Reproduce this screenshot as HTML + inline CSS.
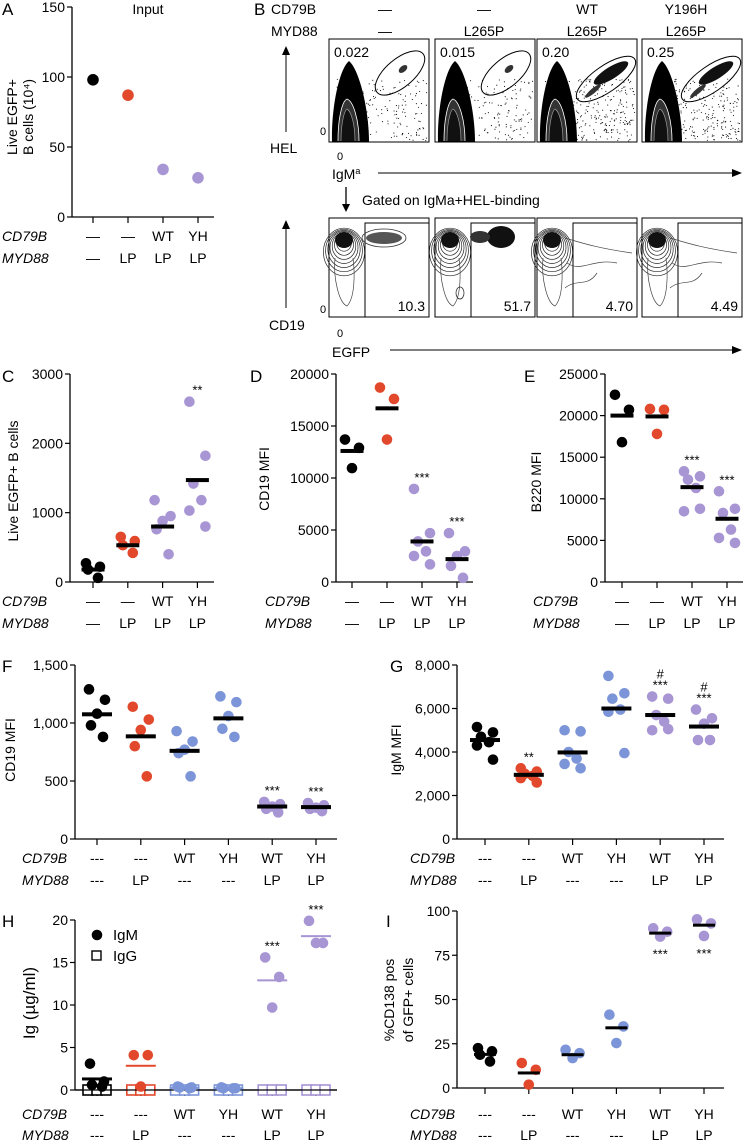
<!DOCTYPE html>
<html><head><meta charset="utf-8"><style>
html,body{margin:0;padding:0;background:#fff}
svg{display:block;font-family:"Liberation Sans",Arial,sans-serif}
</style></head><body>
<svg id="fig" width="745" height="1140" viewBox="0 0 745 1140" xmlns="http://www.w3.org/2000/svg">
<g id="static" fill="#000">
<text x="2" y="15" font-size="17">A</text>
<text x="148" y="14" font-size="14" text-anchor="middle">Input</text>
<text x="254" y="15" font-size="17">B</text>
<text x="271" y="14" font-size="14">CD79B</text>
<text x="271" y="36" font-size="14">MYD88</text>
<text x="2" y="382" font-size="17">C</text>
<text x="250" y="382" font-size="17">D</text>
<text x="524" y="382" font-size="17">E</text>
<text x="2" y="672" font-size="17">F</text>
<text x="390" y="672" font-size="17">G</text>
<text x="2" y="927" font-size="17">H</text>
<text x="386" y="927" font-size="17">I</text>
</g>
<g id="flow"></g>
<g id="charts"></g>
</svg>
<script>
// ---------- data ----------
const rowsShort1 = ['—','—','WT','YH'];
const rowsShort2 = ['—','LP','LP','LP'];
const rowsLong1 = ['---','---','WT','YH','WT','YH'];
const rowsLong2 = ['---','LP','---','---','LP','LP'];

const A_vals = [[98],[87],[34],[28]];
const A_ticks = [0,50,100,150];

const C_vals = [[270,220,180,60],[650,590,530,420],[1180,950,880,760,400],[2600,1820,1420,1180,1030,800]];
const C_means = [180,530,800,1470];
const C_ticks = [0,1000,2000,3000];
const C_stars = ['','','','**'];

const D_vals = [[13700,12900,10950],[18700,17600,13700],[8950,4700,3900,2950,2500,1700],[4700,2950,2500,1550,400]];
const D_means = [12600,16700,3900,2200];
const D_ticks = [0,5000,10000,15000,20000];
const D_stars = ['','','***','***'];

const E_vals = [[22500,20700,16800],[20800,20700,17800],[13300,12700,12300,11300,8500,8800],[10900,8800,8300,6300,5300,4700]];
const E_means = [20000,19900,11400,7600];
const E_ticks = [0,5000,10000,15000,20000,25000];
const E_stars = ['','','***','***'];

const F_vals = [[1290,1200,1080,980,880],[1140,1030,940,800,540],[930,840,770,740,540],[1230,1180,1060,950,880],[320,300,280,260,230],[310,290,270,260,240]];
const F_means = [1075,885,760,1040,280,275];
const F_ticks = [0,500,1000,1500];
const F_tickLabels = ['0','500','1,000','1,500'];
const F_stars = ['','','','','***','***'];

const G_vals = [[5150,4900,4700,4450,4300,3650],[3250,3100,3000,2900,2800,2600],[5000,4950,4000,3700,3450,3250],[7500,6700,6450,5950,5850,3950],[6550,6450,5700,5400,5000,5050],[5950,5550,5300,4550,4550]];
const G_means = [4550,2950,3980,6000,5700,5170];
const G_ticks = [0,2000,4000,6000,8000];
const G_tickLabels = ['0','2,000','4,000','6,000','8,000'];
const G_stars = ['','**','','','***','***'];
const G_hash = ['','','','','#','#'];

const H_igm = [[3.1,1.0,0.6,0.4],[4.1,4.1,0.4],[0.4,0.3,0.3,0.2],[0.3,0.2,0.2,0.2],[15.6,13.3,9.7],[19.9,17.3,17.3]];
const H_igg = [[0,0,0],[0,0,0],[0,0,0],[0,0,0],[0,0,0],[0,0,0]];
const H_means = [1.3,2.85,0.25,0.2,12.9,18.1];
const H_ticks = [0,5,10,15,20];
const H_stars = ['','','','','***','***'];

const I_vals = [[22.5,20.7,18.8,15.0],[14.1,10.3,1.9],[21.6,19.7,16.9],[41.4,34.8,25.4],[90.2,88.3,85.5],[95.3,93.0,85.9]];
const I_means = [19,8.5,18.8,34,87.5,92];
const I_ticks = [0,25,50,75,100];
const I_stars = ['','','','','***','***'];

const B_top1 = ['—','—','WT','Y196H'];
const B_top2 = ['—','L265P','L265P','L265P'];
const B_pctTop = ['0.022','0.015','0.20','0.25'];
const B_pctBot = ['10.3','51.7','4.70','4.49'];

// ---------- helpers ----------
const NS='http://www.w3.org/2000/svg';
function mk(parent,tag,attrs,txt){const e=document.createElementNS(NS,tag);for(const k in attrs)e.setAttribute(k,attrs[k]);if(txt!==undefined)e.textContent=txt;parent.appendChild(e);return e;}
const K='#000',R='#e2492c',P='#a795d4',BL='#7c95d8';
const colors4=[K,R,P,P];
const colors6=[K,R,BL,BL,P,P];
const jit=[[0],[-6,6],[-7,7,0],[-7,7,-5,5],[-8,8,0,-6,6],[-8,8,-4,4,-8,8]];
const charts=document.getElementById('charts');

function panel(o){
  const g=mk(charts,'g',{});
  
  
  const ys=v=>o.y0-(v/o.max)*(o.y0-o.ytop);
  const xs=i=>o.xc0+i*o.step;
  const ya=mk(g,'line',{x1:o.ax,y1:ys(o.max),x2:o.ax,y2:o.y0,stroke:'#000','stroke-width':1.3});
  
  
  o.ticks.forEach((t,i)=>{
    mk(g,'line',{x1:o.ax-5,y1:ys(t),x2:o.ax,y2:ys(t),stroke:'#000','stroke-width':1.2});
    const tl=mk(g,'text',{x:o.ax-7,y:ys(t)+5,'font-size':14,'text-anchor':'end'},o.tickLabels?o.tickLabels[i]:String(t));
    
    
  });
  o.ytitle.forEach((s,i)=>{
    const tx=o.ytx+i*o.ytdx;
    const t=mk(g,'text',{x:tx,y:o.yty,'font-size':o.ytfs||14,'text-anchor':'middle',transform:`rotate(-90 ${tx} ${o.yty})`},s);
    
    
  });
  const xa=mk(g,'line',{x1:o.ax,y1:o.y0,x2:o.xend,y2:o.y0,stroke:'#000','stroke-width':1.3});
  
  
  o.rows[0].forEach((_,i)=>mk(g,'line',{x1:xs(i),y1:o.y0,x2:xs(i),y2:o.y0+6,stroke:'#000','stroke-width':1.2}));
  ['CD79B','MYD88'].forEach((nm,ri)=>{
    const ry=o.rowY[ri];
    const rl=mk(g,'text',{x:o.rowX,y:ry,'font-size':14,'font-style':'italic'},nm);
    
    
    o.rows[ri].forEach((s,i)=>{
      const c=mk(g,'text',{x:xs(i),y:ry,'font-size':14,'text-anchor':'middle'},s);
      
      
    });
  });
  if(o.sq){o.sq.forEach((arr,i)=>arr.forEach((v,j)=>{
    const dx=[-9,0,9][j%3];
    const s=mk(g,'rect',{x:xs(i)+dx-5,y:ys(v)-5,width:10,height:10,fill:'#fff',stroke:o.colors[i],'stroke-width':1.6});
    
    
  }));
  mk(g,'line',{x1:o.ax,y1:o.y0,x2:o.xend,y2:o.y0,stroke:'#000','stroke-width':1.3});}
  o.vals.forEach((arr,i)=>{
    arr.forEach((v,j)=>{
      const jj=jit[Math.min(arr.length,6)-1];
      const c=mk(g,'circle',{cx:xs(i)+jj[j%jj.length],cy:ys(v),r:o.r||5.3,fill:o.colors[i]});
      
      
    });
    if(o.means){
      const thin=o.thinMean&&o.thinMean[i];
      const m=mk(g,'rect',{x:xs(i)-o.bw/2,y:ys(o.means[i])-(thin?1:o.bh/2),width:o.bw,height:thin?2:o.bh,fill:thin?o.colors[i]:'#000'});
      
      
    }
    const top=Math.max(...arr), bot=Math.min(...arr);
    if(o.stars&&o.stars[i]){
      const yy=o.starsBelow?ys(bot)+22:ys(top)-7;
      const s=mk(g,'text',{x:xs(i),y:yy,'font-size':13,'text-anchor':'middle'},o.stars[i]);
      
      
      if(o.hash&&o.hash[i]){
        const h=mk(g,'text',{x:xs(i),y:yy-11,'font-size':13,'text-anchor':'middle'},o.hash[i]);
        
        
      }
    }
  });
  return g;
}

panel({name:'panel-a-input-chart',ax:72,xend:214,y0:217,ytop:7,max:150,ticks:A_ticks,xc0:93,step:35,vals:A_vals,colors:colors4,rows:[rowsShort1,rowsShort2],rowX:2,rowY:[241,263],ytitle:['Live EGFP+','B cells (10⁴)'],ytx:17,ytdx:16,yty:117,r:5.8});
panel({name:'panel-c-live-cells-chart',ax:70,xend:214,y0:582,ytop:374,max:3000,ticks:C_ticks,xc0:93,step:34.8,vals:C_vals,means:C_means,bw:23,bh:4,colors:colors4,rows:[rowsShort1,rowsShort2],rowX:2,rowY:[606,628],ytitle:['Live EGFP+ B cells'],ytx:18,ytdx:0,yty:481,stars:C_stars});
panel({name:'panel-d-cd19-mfi-chart',ax:336,xend:473,y0:582,ytop:374,max:20000,ticks:D_ticks,xc0:352,step:35,vals:D_vals,means:D_means,bw:23,bh:4,colors:colors4,rows:[rowsShort1,rowsShort2],rowX:265,rowY:[606,628],ytitle:['CD19 MFI'],ytx:269,ytdx:0,yty:479,stars:D_stars});
panel({name:'panel-e-b220-mfi-chart',ax:605,xend:743,y0:582,ytop:374,max:25000,ticks:E_ticks,xc0:622,step:35,vals:E_vals,means:E_means,bw:23,bh:4,colors:colors4,rows:[rowsShort1,rowsShort2],rowX:533,rowY:[606,628],ytitle:['B220 MFI'],ytx:541,ytdx:0,yty:482,stars:E_stars});
panel({name:'panel-f-cd19-mfi-chart',ax:75,xend:337,y0:839,ytop:665,max:1500,ticks:F_ticks,tickLabels:F_tickLabels,xc0:97,step:43.8,vals:F_vals,means:F_means,bw:30,bh:4,colors:colors6,rows:[rowsLong1,rowsLong2],rowX:22,rowY:[863,885],ytitle:['CD19 MFI'],ytx:15,ytdx:0,yty:750,stars:F_stars});
panel({name:'panel-g-igm-mfi-chart',ax:457,xend:724,y0:839,ytop:665,max:8000,ticks:G_ticks,tickLabels:G_tickLabels,xc0:485,step:43.8,vals:G_vals,means:G_means,bw:30,bh:4,colors:colors6,rows:[rowsLong1,rowsLong2],rowX:410,rowY:[863,885],ytitle:['IgM MFI'],ytx:401,ytdx:0,yty:750,stars:G_stars,hash:G_hash});
panel({name:'panel-h-ig-chart',ax:75,xend:337,y0:1090,ytop:920,max:20,ticks:H_ticks,xc0:97,step:43.8,vals:H_igm,sq:H_igg,means:H_means,thinMean:[false,true,true,true,true,true],bw:30,bh:3,colors:colors6,rows:[rowsLong1,rowsLong2],rowX:22,rowY:[1119,1140],ytitle:['Ig (µg/ml)'],ytx:35,ytdx:0,yty:1003,ytfs:17,stars:H_stars});
panel({name:'panel-i-cd138-chart',ax:457,xend:724,y0:1088,ytop:911,max:100,ticks:I_ticks,xc0:485,step:43.8,vals:I_vals,means:I_means,bw:22,bh:3,colors:colors6,rows:[rowsLong1,rowsLong2],rowX:410,rowY:[1119,1140],ytitle:['%CD138 pos','of GFP+ cells'],ytx:394,ytdx:19,yty:1000,stars:I_stars,starsBelow:true});

(function(){
  const g=mk(charts,'g',{});
  
  
  const c=mk(g,'circle',{cx:97,cy:935,r:5.3,fill:'#000'});
  
  
  const t1=mk(g,'text',{x:113,y:940,'font-size':15},'IgM');
  
  
  const s=mk(g,'rect',{x:92,y:951,width:9,height:9,fill:'#fff',stroke:'#000','stroke-width':1.4});
  
  
  const t2=mk(g,'text',{x:113,y:961,'font-size':15},'IgG');
  
  
})();

// ---------- flow panel B ----------
const flow=document.getElementById('flow');
let seed=7;function rnd(){seed=(seed*16807)%2147483647;return seed/2147483647;}
const colX=[385,484,587,686];
colX.forEach((x,i)=>{
  const a=mk(flow,'text',{x:x,y:14,'font-size':14,'text-anchor':'middle'},B_top1[i]);
  
  
  const b=mk(flow,'text',{x:x,y:36,'font-size':14,'text-anchor':'middle'},B_top2[i]);
  
  
});
const boxX=[329,435,537,642], bw=100;
boxX.forEach((bx,i)=>{
  const by=39,bh=103;
  const g=mk(flow,'g',{});
  
  
  mk(g,'rect',{x:bx,y:by,width:bw,height:bh,fill:'#fff',stroke:'#000','stroke-width':1});
  const n=i>=2?300:160;
  for(let k=0;k<n;k++){mk(g,'circle',{cx:bx+8+rnd()*90,cy:by+40+rnd()*62,r:0.55,fill:'#000'});}
  mk(g,'path',{d:`M${bx+3} ${by+bh} C${bx+2} ${by+70} ${bx+10} ${by+30} ${bx+20} ${by+22} C${bx+30} ${by+30} ${bx+40} ${by+70} ${bx+40} ${by+bh} Z`,fill:'#000'});
  mk(g,'path',{d:`M${bx+9} ${by+bh-1} C${bx+9} ${by+80} ${bx+13} ${by+62} ${bx+18} ${by+60} C${bx+24} ${by+62} ${bx+30} ${by+80} ${bx+30} ${by+bh-1}`,fill:'#333',stroke:'#fff','stroke-width':0.8});
  mk(g,'path',{d:`M${bx+12} ${by+bh-1} C${bx+12} ${by+85} ${bx+15} ${by+72} ${bx+18} ${by+70} C${bx+22} ${by+72} ${bx+26} ${by+85} ${bx+26} ${by+bh-1}`,fill:'#111',stroke:'#999','stroke-width':0.7});
  if(i<2){
    mk(g,'ellipse',{cx:bx+74,cy:by+30,rx:5,ry:3,fill:'#333',transform:`rotate(-40 ${bx+74} ${by+30})`});
    mk(g,'ellipse',{cx:bx+71,cy:by+34,rx:30,ry:14,fill:'none',stroke:'#000','stroke-width':1,transform:`rotate(-40 ${bx+71} ${by+34})`});
  } else {
    mk(g,'ellipse',{cx:bx+74,cy:by+34,rx:20,ry:6,fill:'#111',transform:`rotate(-32 ${bx+74} ${by+34})`});
    mk(g,'ellipse',{cx:bx+56,cy:by+52,rx:10,ry:2.5,fill:'#333',transform:`rotate(-40 ${bx+56} ${by+52})`});
    mk(g,'ellipse',{cx:bx+69,cy:by+40,rx:35,ry:13,fill:'none',stroke:'#000','stroke-width':1,transform:`rotate(-35 ${bx+69} ${by+40})`});
  }
  const p=mk(g,'text',{x:bx+5,y:by+18,'font-size':14},B_pctTop[i]);
  
  

  const cy=218,ch=99;
  const h=mk(flow,'g',{});
  
  
  mk(h,'rect',{x:bx,y:cy,width:bw,height:ch,fill:'#fff',stroke:'#000','stroke-width':1});
  mk(h,'rect',{x:bx+36,y:cy+5,width:bw-36,height:ch-5,fill:'none',stroke:'#000','stroke-width':1});
  const cx0=bx+15,cy0=cy+22;
  for(let k=8;k>=1;k--){mk(h,'ellipse',{cx:cx0,cy:cy0+k*1.5,rx:3+k*2.2,ry:3+k*2.6,fill:'none',stroke:'#222','stroke-width':0.7});}
  mk(h,'ellipse',{cx:cx0,cy:cy0,rx:9,ry:8,fill:'#111'});
  mk(h,'path',{d:`M${bx+6} ${cy+40} C${bx+4} ${cy+60} ${bx+10} ${cy+85} ${bx+18} ${cy+88} C${bx+26} ${cy+80} ${bx+26} ${cy+55} ${bx+24} ${cy+40}`,fill:'none',stroke:'#444','stroke-width':0.7});
  if(i===0){
    mk(h,'ellipse',{cx:bx+55,cy:cy+20,rx:18,ry:6,fill:'#555'});
    mk(h,'ellipse',{cx:bx+55,cy:cy+20,rx:22,ry:9,fill:'none',stroke:'#333','stroke-width':0.8});
  } else if(i===1){
    mk(h,'ellipse',{cx:bx+66,cy:cy+19,rx:14,ry:11,fill:'#111'});
    mk(h,'ellipse',{cx:bx+45,cy:cy+19,rx:10,ry:6,fill:'#333'});
    mk(h,'ellipse',{cx:bx+25,cy:cy+75,rx:4,ry:6,fill:'none',stroke:'#333','stroke-width':0.8});
  } else {
    mk(h,'path',{d:`M${bx+28} ${cy+20} C${bx+45} ${cy+25} ${bx+60} ${cy+30} ${bx+95} ${cy+35} M${bx+30} ${cy+45} C${bx+45} ${cy+55} ${bx+55} ${cy+40} ${bx+80} ${cy+45} M${bx+28} ${cy+70} C${bx+40} ${cy+60} ${bx+50} ${cy+70} ${bx+60} ${cy+55}`,fill:'none',stroke:'#444','stroke-width':0.7});
  }
  const q=mk(h,'text',{x:bx+bw-4,y:cy+ch-6,'font-size':14,'text-anchor':'end'},B_pctBot[i]);
  
  
});
[['line',{x1:286,y1:132,x2:286,y2:52,stroke:'#000','stroke-width':1}],
 ['line',{x1:286,y1:308,x2:286,y2:226,stroke:'#000','stroke-width':1}],
 ['line',{x1:378,y1:173,x2:734,y2:173,stroke:'#000','stroke-width':1}],
 ['line',{x1:390,y1:350,x2:734,y2:350,stroke:'#000','stroke-width':1}],
 ['line',{x1:346,y1:187,x2:346,y2:206,stroke:'#000','stroke-width':1.3}]].forEach(a=>mk(flow,a[0],a[1]));
mk(flow,'path',{d:'M286 46 L282 55 L290 55 Z',fill:'#000'});
mk(flow,'path',{d:'M286 220 L282 229 L290 229 Z',fill:'#000'});
mk(flow,'path',{d:'M742 173 L732 169 L732 177 Z',fill:'#000'});
mk(flow,'path',{d:'M742 350 L732 346 L732 354 Z',fill:'#000'});
mk(flow,'path',{d:'M346 212 L342 204 L350 204 Z',fill:'#000'});
[['HEL',270,153,'hel-axis-label'],['0',320,135,'zero-label'],['0',337,160,'zero-label'],['CD19',269,330,'cd19-axis-label'],['0',320,313,'zero-label'],['0',337,337,'zero-label'],['EGFP',332,357,'egfp-axis-label'],['Gated on IgMa+HEL-binding',362,205,'gating-note']].forEach(t=>{
  const e=mk(flow,'text',{x:t[1],y:t[2],'font-size':t[0]==='0'?11:14},t[0]);
  
  
});
const ig=mk(flow,'text',{x:332,y:179,'font-size':14},'IgM');


mk(ig,'tspan',{'font-size':9,dy:-5},'a');
</script>
</body></html>
